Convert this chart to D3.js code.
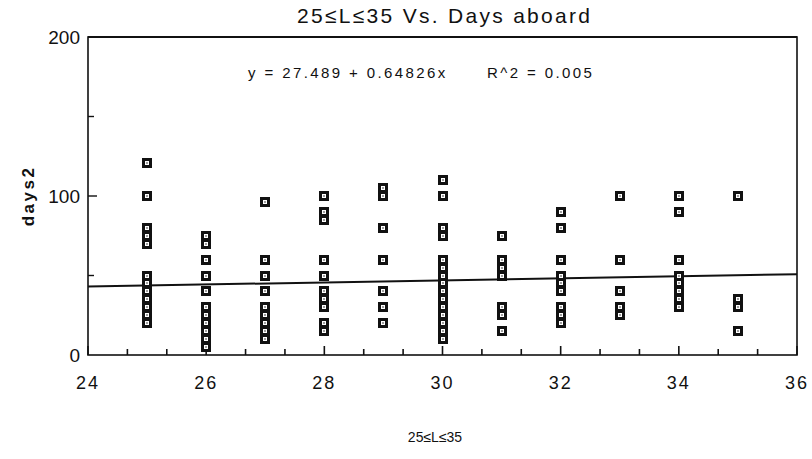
<!DOCTYPE html>
<html>
<head>
<meta charset="utf-8">
<script src="https://cdn.jsdelivr.net/npm/d3@7"></script>
<style>
  body { margin: 0; background: #fff; }
  svg text { font-family: "Liberation Sans", Arial, Helvetica, sans-serif; fill: #111; }
</style>
</head>
<body>
<script>
// L values (columns) and days2 values, one list per column
var lengths = [25, 26, 27, 28, 29, 30, 31, 32, 33, 34, 35];
var days25 = [121, 100, 80, 75, 70, 50, 45, 40, 35, 30, 25, 20];
var days26 = [75, 70, 60, 50, 40, 30, 25, 20, 15, 10, 5];
var days27 = [96, 60, 50, 40, 30, 25, 20, 15, 10];
var days28 = [100, 90, 85, 60, 50, 40, 35, 30, 20, 15];
var days29 = [105, 100, 80, 60, 40, 30, 20];
var days30 = [110, 100, 80, 75, 60, 55, 50, 45, 40, 35, 30, 25, 20, 15, 10];
var days31 = [75, 60, 55, 50, 30, 25, 15];
var days32 = [90, 80, 60, 50, 45, 40, 30, 25, 20];
var days33 = [100, 60, 40, 30, 25];
var days34 = [100, 90, 60, 50, 45, 40, 35, 30];
var days35 = [100, 35, 30, 15];
var daysByL = [days25, days26, days27, days28, days29, days30, days31, days32, days33, days34, days35];

var fitA = 27.489, fitB = 0.64826, r2 = 0.005;
var xDomain = [24, 36], yDomain = [0, 200];
var xTickLabels = [24, 26, 28, 30, 32, 34, 36];
var yTickLabels = [0, 100, 200];

(() => {
    var w = 812, h = 459;
    var margin = { top: 37, bottom: 104, left: 88, right: 15 };

    var svg = d3.select("body").append("svg")
        .attr("width", w).attr("height", h);

    var x = d3.scaleLinear().domain(xDomain).range([margin.left, w - margin.right]);
    var y = d3.scaleLinear().domain(yDomain).range([h - margin.bottom, margin.top]);

    var points = [];
    lengths.forEach((L, i) => {
        daysByL[i].forEach(v => points.push({ L: L, days: v }));
    });

    // frame
    svg.append("rect")
        .attr("x", x(24)).attr("y", y(200))
        .attr("width", x(36) - x(24)).attr("height", y(0) - y(200))
        .attr("fill", "none").attr("stroke", "#111").attr("stroke-width", 1.6);
    svg.append("line")
        .attr("x1", x(24)).attr("x2", x(36)).attr("y1", y(200)).attr("y2", y(200))
        .attr("stroke", "#111").attr("stroke-width", 2.2);

    // x ticks every 2/3 unit, pointing inward
    var xTicks = d3.range(19).map(k => 24 + k * 2 / 3);
    svg.append("g").selectAll("line").data(xTicks).enter().append("line")
        .attr("x1", d => x(d)).attr("x2", d => x(d))
        .attr("y1", y(0))
        .attr("y2", (d, i) => y(0) - (i % 3 === 0 ? 9 : 6))
        .attr("stroke", "#111").attr("stroke-width", 1.6);

    // y ticks, pointing inward
    svg.append("g").selectAll("line").data([50, 100, 150]).enter().append("line")
        .attr("x1", x(24)).attr("x2", d => x(24) + (d === 100 ? 9 : 6))
        .attr("y1", d => y(d)).attr("y2", d => y(d))
        .attr("stroke", "#111").attr("stroke-width", 1.4);

    // tick labels
    svg.append("g").selectAll("text").data(xTickLabels).enter().append("text")
        .attr("x", d => x(d)).attr("y", y(0) + 34)
        .attr("text-anchor", "middle")
        .style("font-size", "18px").style("letter-spacing", "2px")
        .text(d => d);

    svg.append("g").selectAll("text").data(yTickLabels).enter().append("text")
        .attr("x", x(24) - 8).attr("y", d => y(d) + 7)
        .attr("text-anchor", "end")
        .style("font-size", "19px")
        .text(d => d);

    // regression line
    svg.append("line")
        .attr("x1", x(24)).attr("y1", y(fitA + fitB * 24))
        .attr("x2", x(36)).attr("y2", y(fitA + fitB * 36))
        .attr("stroke", "#111").attr("stroke-width", 2);

    // markers: black square, small white ring, dark centre
    var s = 10;
    var mk = svg.append("g").selectAll(".point").data(points).enter()
        .append("g").attr("class", "point")
        .attr("transform", d => "translate(" + [Math.round(x(d.L)), Math.round(y(d.days))] + ")");
    mk.append("rect").attr("x", -s / 2).attr("y", -s / 2).attr("width", s).attr("height", s)
        .attr("fill", "#111");
    mk.append("rect").attr("x", -2).attr("y", -2).attr("width", 4).attr("height", 4)
        .attr("fill", "#fff");
    mk.append("rect").attr("x", -0.75).attr("y", -0.75).attr("width", 1.5).attr("height", 1.5)
        .attr("fill", "#555");

    // title
    svg.append("text")
        .attr("x", 297).attr("y", 23)
        .attr("textLength", 293).attr("lengthAdjust", "spacing")
        .style("font-size", "21px")
        .text("25≤L≤35 Vs. Days aboard");

    // equation
    svg.append("text")
        .attr("x", 248).attr("y", 78)
        .style("font-size", "15px").style("letter-spacing", "2.4px")
        .text("y = " + fitA + " + " + fitB + "x");
    svg.append("text")
        .attr("x", 487).attr("y", 78)
        .style("font-size", "15px").style("letter-spacing", "2.4px")
        .text("R^2 = " + r2.toFixed(3));

    // axis titles
    svg.append("text")
        .attr("transform", "translate(" + [34, y(100)] + ")rotate(-90)")
        .attr("text-anchor", "middle")
        .style("font-size", "17px").style("font-weight", "bold").style("letter-spacing", "2.5px")
        .text("days2");

    svg.append("text")
        .attr("x", 435).attr("y", 442)
        .attr("text-anchor", "middle")
        .style("font-size", "14px")
        .text("25≤L≤35");
})()
</script>
</body>
</html>
